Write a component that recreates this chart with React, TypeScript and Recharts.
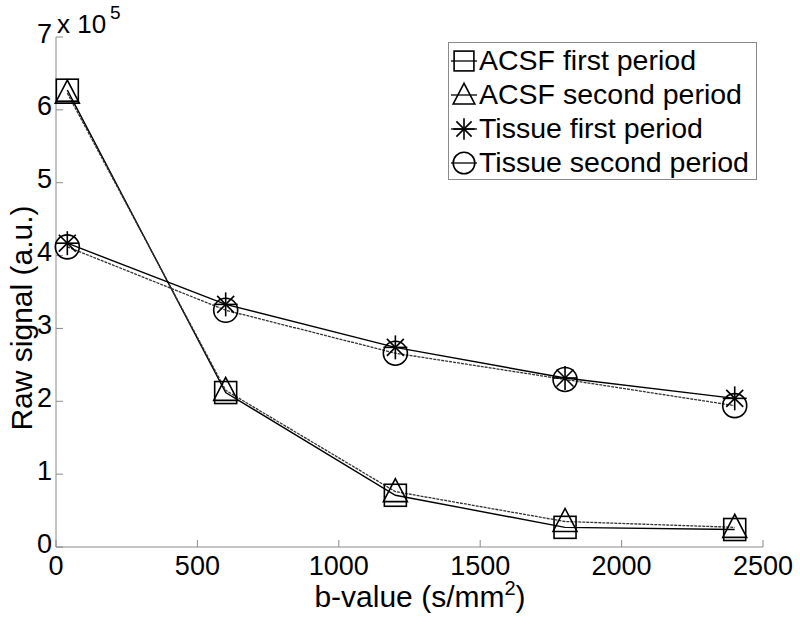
import React from 'react';
import { LineChart, Line, XAxis, YAxis, Legend } from 'recharts';

const bValues = [40, 600, 1200, 1800, 2400];
const acsfFirst = [627000, 212000, 71000, 27000, 24000];
const acsfSecond = [623000, 215000, 76000, 35000, 27000];
const tissueFirst = [417000, 333000, 274000, 232000, 204000];
const tissueSecond = [412000, 325000, 266000, 230000, 194000];
const xTicks = [0, 500, 1000, 1500, 2000, 2500];
const yTicks = [0, 100000, 200000, 300000, 400000, 500000, 600000, 700000];

const seriesNames = ['ACSF first period', 'ACSF second period', 'Tissue first period', 'Tissue second period'];

const data = bValues.map((b, i) => ({
  b,
  acsfFirst: acsfFirst[i],
  acsfSecond: acsfSecond[i],
  tissueFirst: tissueFirst[i],
  tissueSecond: tissueSecond[i],
}));

const FONT = '"Liberation Sans", Arial, Helvetica, sans-serif';
const AXIS = '#8a8a8a';

type Shape = 'square' | 'triangle' | 'star' | 'circle';

function Marker({ shape, cx, cy, s = 1 }: { shape: Shape; cx: number; cy: number; s?: number }) {
  const st = { fill: 'none', stroke: '#000', strokeWidth: 1.6 };
  if (shape === 'square') {
    const h = 11 * s;
    return <rect x={cx - h} y={cy - h} width={2 * h} height={2 * h} {...st} />;
  }
  if (shape === 'triangle') {
    return (
      <polygon
        points={`${cx},${cy - 13 * s} ${cx - 12 * s},${cy + 10 * s} ${cx + 12 * s},${cy + 10 * s}`}
        {...st}
      />
    );
  }
  if (shape === 'star') {
    const r = 12 * s;
    const d = r * 0.707;
    return (
      <g {...st}>
        <line x1={cx - r} y1={cy} x2={cx + r} y2={cy} />
        <line x1={cx} y1={cy - r} x2={cx} y2={cy + r} />
        <line x1={cx - d} y1={cy - d} x2={cx + d} y2={cy + d} />
        <line x1={cx - d} y1={cy + d} x2={cx + d} y2={cy - d} />
      </g>
    );
  }
  return <circle cx={cx} cy={cy} r={12 * s} {...st} />;
}

const makeDot = (shape: Shape) => (props: any) => {
  const { cx, cy, index } = props;
  if (cx == null || cy == null) return <g key={`${shape}-${index}`} />;
  return (
    <g key={`${shape}-${index}`}>
      <Marker shape={shape} cx={cx} cy={cy} />
    </g>
  );
};

const shapes: Shape[] = ['square', 'triangle', 'star', 'circle'];

const renderLegend = () => (
  <div
    style={{
      border: `1px solid ${AXIS}`,
      background: '#fff',
      width: 309,
      height: 138,
      boxSizing: 'border-box',
      padding: '0 0 0 0',
      fontFamily: FONT,
    }}
  >
    {seriesNames.map((name, i) => (
      <div key={name} style={{ display: 'flex', alignItems: 'center', height: 34 }}>
        <svg width={30} height={33} style={{ flex: 'none' }}>
          <line x1={2} y1={17} x2={28} y2={17} stroke="#000" strokeWidth={1.3} />
          <Marker shape={shapes[i]} cx={15} cy={17} s={0.9} />
        </svg>
        <span style={{ fontSize: 28.5, color: '#000', lineHeight: '33px', whiteSpace: 'nowrap' }}>{name}</span>
      </div>
    ))}
  </div>
);

const renderYLabel = () => (
  <g fontFamily={FONT} fill="#000">
    <text x={21} y={318} fontSize={30} textAnchor="middle" transform="rotate(-90 21 318)" dominantBaseline="central">
      Raw signal (a.u.)
    </text>
    <text x={57} y={33} fontSize={26}>x 10</text>
    <text x={110} y={19} fontSize={19}>5</text>
  </g>
);

const renderXLabel = () => (
  <text x={420} y={607} fontSize={30} textAnchor="middle" fontFamily={FONT} fill="#000">
    b-value (s/mm<tspan dy={-12} fontSize={20}>2</tspan>
    <tspan dy={12}>)</tspan>
  </text>
);

export default function App() {
  return (
    <div style={{ position: 'absolute', left: 0, top: 0, width: 800, height: 626, background: '#fff' }}>
      <LineChart width={800} height={626} data={data} margin={{ top: 37, right: 37, bottom: 0, left: 0 }}>
        <XAxis
          dataKey="b"
          type="number"
          domain={[0, 2500]}
          ticks={xTicks}
          height={79}
          stroke={AXIS}
          tickSize={-7}
          tickMargin={16}
          tick={{ fill: '#000', fontSize: 27, fontFamily: FONT }}
          label={{ content: renderXLabel }}
        />
        <XAxis
          xAxisId="top"
          orientation="top"
          dataKey="b"
          type="number"
          domain={[0, 2500]}
          ticks={xTicks}
          height={0}
          stroke={AXIS}
          tickSize={-7}
          tick={false}
        />
        <YAxis
          type="number"
          domain={[0, 700000]}
          ticks={yTicks}
          width={56}
          stroke={AXIS}
          tickSize={-7}
          tickMargin={11}
          tickFormatter={(v: number) => String(v / 100000)}
          tick={{ fill: '#000', fontSize: 27, fontFamily: FONT, dy: -4 }}
          label={{ content: renderYLabel }}
        />
        <YAxis
          yAxisId="right"
          orientation="right"
          type="number"
          domain={[0, 700000]}
          ticks={yTicks}
          width={0}
          stroke={AXIS}
          tickSize={-7}
          tick={false}
        />
        <Legend
          layout="vertical"
          align="center"
          verticalAlign="middle"
          content={renderLegend}
          wrapperStyle={{ position: 'absolute', top: 42, left: 448, width: 309, height: 138 }}
        />
        <Line type="linear" dataKey="acsfFirst" name={seriesNames[0]} stroke="#000" strokeWidth={1.4} dot={makeDot('square')} activeDot={false} isAnimationActive={false} />
        <Line type="linear" dataKey="acsfSecond" name={seriesNames[1]} stroke="#333" strokeWidth={1.3} strokeDasharray="3 1" dot={makeDot('triangle')} activeDot={false} isAnimationActive={false} />
        <Line type="linear" dataKey="tissueFirst" name={seriesNames[2]} stroke="#000" strokeWidth={1.4} dot={makeDot('star')} activeDot={false} isAnimationActive={false} />
        <Line type="linear" dataKey="tissueSecond" name={seriesNames[3]} stroke="#333" strokeWidth={1.3} strokeDasharray="3 1" dot={makeDot('circle')} activeDot={false} isAnimationActive={false} />
      </LineChart>
    </div>
  );
}
